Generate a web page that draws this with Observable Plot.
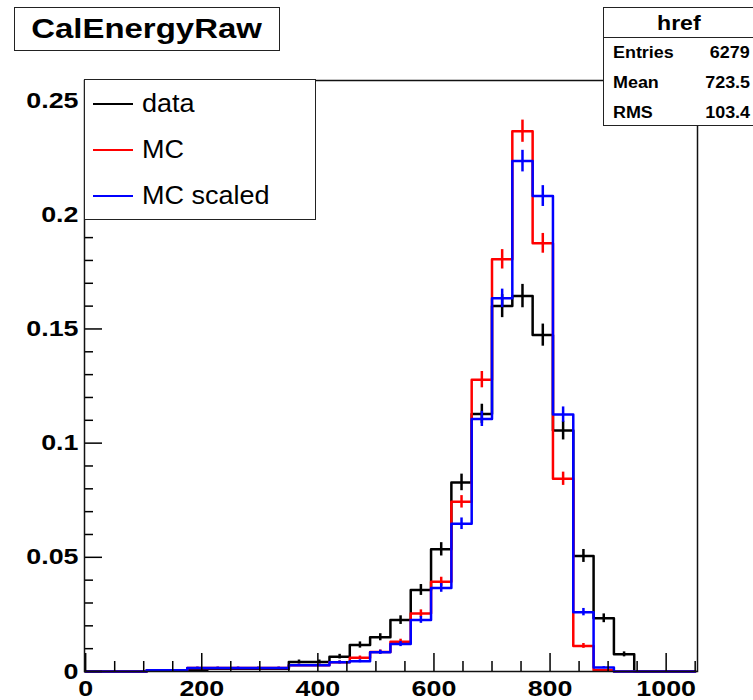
<!DOCTYPE html>
<html><head><meta charset="utf-8">
<script src="https://cdn.jsdelivr.net/npm/d3@7"></script>
<script src="https://cdn.jsdelivr.net/npm/@observablehq/plot@0.6"></script>
<style>
body{margin:0;background:#fff;}
#wrap{position:relative;width:753px;height:700px;overflow:hidden;font-family:"Liberation Sans",Arial,sans-serif;}
#chart{position:absolute;left:0;top:0;}
#chart g[aria-label$="tick label"]{font-size:22px;font-weight:bold;font-family:"Liberation Sans",Arial,sans-serif;fill:#000;}
.box{position:absolute;background:#fff;border:1.5px solid #222;box-sizing:border-box;}
#title{left:14px;top:7px;width:266px;height:44px;display:flex;align-items:center;justify-content:center;}
#title span{display:inline-block;font-weight:bold;font-size:27px;transform:scaleX(1.22);color:#000;}
#legend{left:84px;top:79px;width:232px;height:141px;}
.lg-line{position:absolute;left:8px;width:40px;height:2.5px;}
.lg-text{position:absolute;left:57px;font-size:25px;line-height:25px;transform:scaleX(1.08);transform-origin:left center;color:#000;}
#stats{left:603px;top:7px;width:160px;height:119px;}
#stats .hdr{position:absolute;left:0;top:0;width:150px;height:29px;border-bottom:1.5px solid #222;text-align:center;font-weight:bold;font-size:21px;line-height:29px;}
#stats .hdr span{display:inline-block;transform:scaleX(1.1);}
.srow{position:absolute;left:0;width:146px;font-weight:bold;font-size:16px;line-height:16px;}
.srow .k{position:absolute;left:9px;transform:scaleX(1.12);transform-origin:left center;}
.srow .v{position:absolute;right:0;transform:scaleX(1.12);transform-origin:right center;}
</style></head><body>
<div id="wrap">
  <div id="chart"></div>
  <div id="title" class="box"><span>CalEnergyRaw</span></div>
  <div id="legend" class="box"></div>
  <div id="stats" class="box"></div>
</div>
<script>
// ---- data ----
const binLow = [0,35,70,105,140,175,210,245,280,315,350,385,420,455,490,525,560,595,630,665,700,735,770,805,840,875,910,945,980,1015];
const binWidth = 35;
const dataValues = [0,0,0,0.0003,0.0003,0.0008,0.0012,0.0012,0.0012,0.0012,0.0042,0.0042,0.0065,0.0116,0.0150,0.0225,0.0357,0.0535,0.0828,0.1128,0.1600,0.1644,0.1473,0.1055,0.0506,0.0233,0.0075,0,0,0];
const mcValues = [0,0,0,0.0005,0.0005,0.0015,0.0015,0.0015,0.0015,0.0015,0.0027,0.0027,0.0040,0.0060,0.0085,0.0130,0.0254,0.0393,0.0743,0.1278,0.1805,0.2366,0.1875,0.0844,0.0112,0.0005,0,0,0,0];
const mcScaledValues = [0,0,0,0.0005,0.0005,0.0015,0.0015,0.0015,0.0015,0.0015,0.0027,0.0027,0.0040,0.0045,0.0084,0.0120,0.0226,0.0366,0.0647,0.1106,0.1634,0.2235,0.2082,0.1125,0.0260,0.0017,0,0,0,0];
const seriesNames = ["data","MC","MC scaled"];
const seriesColors = ["#000000","#ff0000","#0000ff"];
const seriesEntries = [6279, 10000, 10000];
const xTicks = [0,200,400,600,800,1000];
const xTickLabels = ["0","200","400","600","800","1000"];
const xMinorTicks = [50,100,150,250,300,350,450,500,550,650,700,750,850,900,950,1050];
const yTicks = [0,0.05,0.1,0.15,0.2,0.25];
const yTickLabels = ["0","0.05","0.1","0.15","0.2","0.25"];
const yMinorTicks = [0.01,0.02,0.03,0.04,0.06,0.07,0.08,0.09,0.11,0.12,0.13,0.14,0.16,0.17,0.18,0.19,0.21,0.22,0.23,0.24];
const xDomain = [-2, 1054];
const yDomain = [0, 0.2588];
const statsTitle = "href";
const statLabels = ["Entries","Mean","RMS"];
const statValues = ["6279","723.5","103.4"];

// ---- build ----
const seriesValues = [dataValues, mcValues, mcScaledValues];
const steps = [], errs = [];
seriesValues.forEach((vals, s) => {
  vals.forEach((v, i) => {
    steps.push({s, x: binLow[i], y: v});
    if (v > 0) {
      const e = Math.sqrt(v / seriesEntries[s]);
      errs.push({s, x: binLow[i] + binWidth / 2, lo: v - e, hi: v + e});
    }
  });
  steps.push({s, x: binLow[binLow.length - 1] + binWidth, y: vals[vals.length - 1]});
});

const marks = [];
seriesValues.forEach((_, s) => {
  marks.push(Plot.line(steps.filter(d => d.s === s), {x: "x", y: "y", curve: "step-after", stroke: seriesColors[s], strokeWidth: 2.5}));
  marks.push(Plot.ruleX(errs.filter(d => d.s === s), {x: "x", y1: "lo", y2: "hi", stroke: seriesColors[s], strokeWidth: 2.5}));
});
marks.push(
  Plot.axisY(yMinorTicks, {tickSize: -9, tickFormat: () => "", strokeWidth: 1.5, label: null}),
  Plot.axisY(yTicks, {tickSize: -18, tickFormat: () => "", strokeWidth: 1.5, label: null}),
  Plot.axisY(yTicks, {tickSize: 0, tickPadding: 6, tickFormat: d => yTickLabels[yTicks.indexOf(d)], label: null}),
  Plot.axisX(xMinorTicks, {tickSize: -10, tickFormat: () => "", strokeWidth: 1.5, label: null}),
  Plot.axisX(xTicks, {tickSize: -18, tickFormat: () => "", strokeWidth: 1.5, label: null}),
  Plot.axisX(xTicks, {tickSize: 0, tickPadding: 9, tickFormat: d => xTickLabels[xTicks.indexOf(d)], label: null}),
  Plot.frame({stroke: "#111", strokeWidth: 1.5})
);

const chart = Plot.plot({
  width: 753, height: 700,
  marginTop: 80, marginBottom: 29, marginLeft: 84, marginRight: 56,
  x: {domain: xDomain, label: null},
  y: {domain: yDomain, label: null},
  style: {fontFamily: "Liberation Sans, Arial, sans-serif", background: "#fff"},
  marks
});
document.getElementById("chart").append(chart);
chart.querySelectorAll('g[aria-label$="tick label"] text').forEach(t => {
  t.setAttribute("transform", (t.getAttribute("transform") || "") + " scale(1.22,1)");
});

// legend
const legend = document.getElementById("legend");
const legendY = [24, 70, 116];
seriesNames.forEach((name, i) => {
  const ln = document.createElement("div");
  ln.className = "lg-line";
  ln.style.top = (legendY[i] - 1.25) + "px";
  ln.style.background = seriesColors[i];
  legend.append(ln);
  const tx = document.createElement("div");
  tx.className = "lg-text";
  tx.style.top = (legendY[i] - 13) + "px";
  tx.textContent = name;
  legend.append(tx);
});

// stats box
const stats = document.getElementById("stats");
const hdr = document.createElement("div");
hdr.className = "hdr";
hdr.innerHTML = "<span></span>";
hdr.firstChild.textContent = statsTitle;
stats.append(hdr);
const rowY = [45, 75, 105];
statLabels.forEach((k, i) => {
  const r = document.createElement("div");
  r.className = "srow";
  r.style.top = (rowY[i] - 8) + "px";
  const a = document.createElement("span"); a.className = "k"; a.textContent = k;
  const b = document.createElement("span"); b.className = "v"; b.textContent = statValues[i];
  r.append(a, b);
  stats.append(r);
});
</script>
</body></html>
